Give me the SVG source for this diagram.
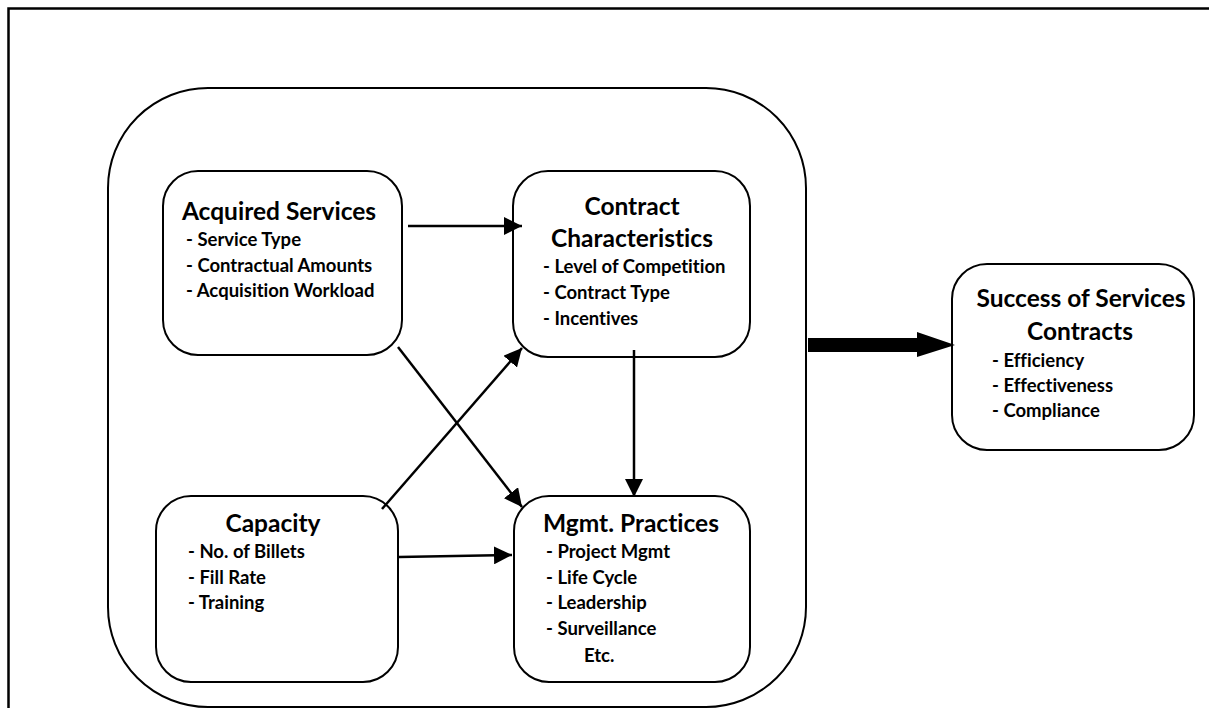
<svg xmlns="http://www.w3.org/2000/svg" width="1209" height="708" viewBox="0 0 1209 708">
<style>
.box{fill:#fff;stroke:#000;stroke-width:2}
.t{font-family:Lato,"Liberation Sans",sans-serif;font-weight:bold;fill:#000;font-variant-ligatures:none}
.h{font-size:24.5px;text-anchor:middle}
.i{font-size:18.5px}
.c{fill:none;stroke:#000;stroke-width:2.5}
</style>
<defs>
<marker id="ah" markerUnits="userSpaceOnUse" markerWidth="18" markerHeight="18" viewBox="0 0 16 16" refX="16" refY="8" orient="auto">
<path d="M0,0 L16,8 L0,16 Z" fill="#000"/>
</marker>
</defs>
<rect width="1209" height="708" fill="#fff"/>
<g id="frame"><path d="M8.5,708 L8.5,8.5 L1209,8.5" fill="none" stroke="#000" stroke-width="2.5"/></g>
<g id="container"><rect class="box" x="108" y="88" width="698" height="619" rx="100" ry="100"/></g>
<g id="acquired">
<rect class="box" x="163" y="171" width="239" height="184" rx="35"/>
<text class="t h" x="279" y="220">Acquired Services</text>
<text class="t i" x="186" y="246">- Service Type</text>
<text class="t i" x="186" y="272">- Contractual Amounts</text>
<text class="t i" x="186" y="297">- Acquisition Workload</text>
</g>
<g id="contract">
<rect class="box" x="513" y="171" width="237" height="186" rx="35"/>
<text class="t h" x="632" y="215">Contract</text>
<text class="t h" x="632" y="247">Characteristics</text>
<text class="t i" x="543" y="273">- Level of Competition</text>
<text class="t i" x="543" y="299">- Contract Type</text>
<text class="t i" x="543" y="325">- Incentives</text>
</g>
<g id="capacity">
<rect class="box" x="156" y="496" width="242" height="186" rx="35"/>
<text class="t h" x="273" y="532">Capacity</text>
<text class="t i" x="188" y="558">- No. of Billets</text>
<text class="t i" x="188" y="584">- Fill Rate</text>
<text class="t i" x="188" y="609">- Training</text>
</g>
<g id="mgmt">
<rect class="box" x="514" y="496" width="236" height="186" rx="35"/>
<text class="t h" x="631" y="532">Mgmt. Practices</text>
<text class="t i" x="546" y="558">- Project Mgmt</text>
<text class="t i" x="546" y="584">- Life Cycle</text>
<text class="t i" x="546" y="609">- Leadership</text>
<text class="t i" x="546" y="635">- Surveillance</text>
<text class="t i" x="584" y="662">Etc.</text>
</g>
<g id="success">
<rect class="box" x="952" y="264" width="242" height="186" rx="35"/>
<text class="t h" x="1081" y="307">Success of Services</text>
<text class="t h" x="1080" y="340">Contracts</text>
<text class="t i" x="992" y="367">- Efficiency</text>
<text class="t i" x="992" y="392">- Effectiveness</text>
<text class="t i" x="992" y="417">- Compliance</text>
</g>
<g id="connectors">
<path class="c" d="M408,226 L522,226" marker-end="url(#ah)"/>
<path class="c" d="M398,347 L522,507" marker-end="url(#ah)"/>
<path class="c" d="M382,509 L522,348" marker-end="url(#ah)"/>
<path class="c" d="M399,557 L512,555" marker-end="url(#ah)"/>
<path class="c" d="M634,350 L634,497" marker-end="url(#ah)"/>
<path d="M808,338 L917,338 L917,332 L955,345 L917,357 L917,352 L808,352 Z" fill="#000"/>
</g>
</svg>
